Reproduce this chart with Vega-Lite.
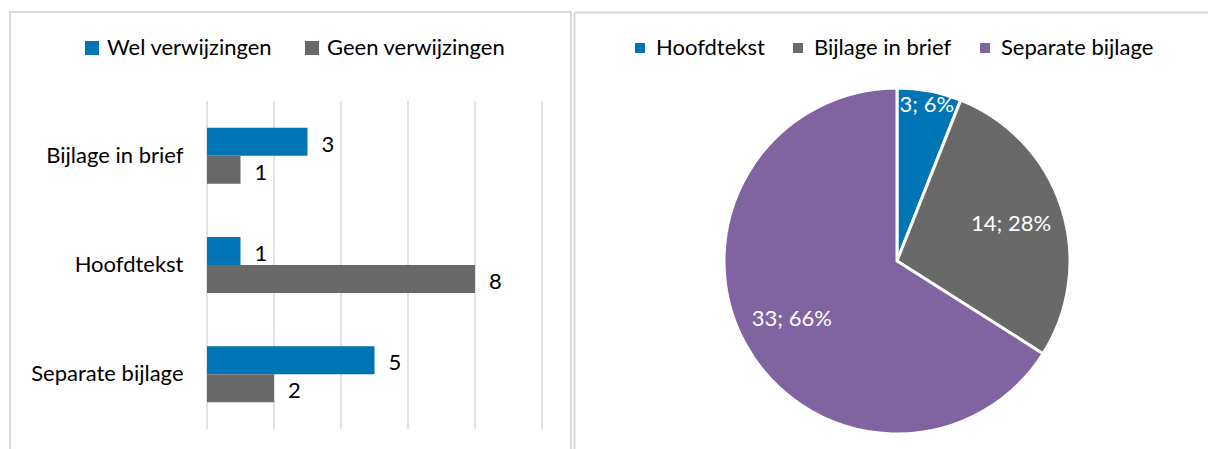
{
  "$schema": "https://vega.github.io/schema/vega-lite/v6.json",
  "padding": {"left": 9, "top": 11, "right": -10, "bottom": -60},
  "spacing": 2,
  "config": {
    "view": {"stroke": "#d9d9d9", "strokeWidth": 2},
    "font": "Lato",
    "legend": {"labelFont": "Lato", "labelFontSize": 22, "labelLimit": 400, "labelColor": "#000000", "symbolType": "square", "symbolStrokeWidth": 0, "title": null, "direction": "horizontal", "orient": "none"}
  },
  "datasets": {
    "bars": [
      {"cat": "Bijlage in brief", "series": "Wel verwijzingen", "value": 3},
      {"cat": "Bijlage in brief", "series": "Geen verwijzingen", "value": 1},
      {"cat": "Hoofdtekst", "series": "Wel verwijzingen", "value": 1},
      {"cat": "Hoofdtekst", "series": "Geen verwijzingen", "value": 8},
      {"cat": "Separate bijlage", "series": "Wel verwijzingen", "value": 5},
      {"cat": "Separate bijlage", "series": "Geen verwijzingen", "value": 2}
    ],
    "grid": [{"g": 0}, {"g": 2}, {"g": 4}, {"g": 6}, {"g": 8}, {"g": 10}],
    "pie": [
      {"k": 1, "cat": "Hoofdtekst", "value": 3, "label": "3; 6%"},
      {"k": 2, "cat": "Bijlage in brief", "value": 14, "label": "14; 28%"},
      {"k": 3, "cat": "Separate bijlage", "value": 33, "label": "33; 66%"}
    ]
  },
  "resolve": {"scale": {"color": "independent"}, "legend": {"color": "independent"}},
  "hconcat": [
    {
      "width": 561,
      "height": 498,
      "layer": [
        {
          "data": {"name": "grid"},
          "mark": {"type": "rule", "color": "#d9d9d9", "strokeWidth": 1.5},
          "encoding": {
            "x": {"field": "g", "type": "quantitative", "scale": {"domain": [0, 10], "range": [197, 532], "nice": false}, "axis": null},
            "y": {"datum": 0, "type": "quantitative", "scale": {"domain": [0, 1], "range": [89, 417]}, "axis": null},
            "y2": {"datum": 1}
          }
        },
        {
          "data": {"name": "bars"},
          "layer": [
            {
              "mark": {"type": "bar"},
              "encoding": {
                "x": {"field": "value", "type": "quantitative", "scale": {"domain": [0, 10], "range": [197, 532], "nice": false}, "axis": null},
                "y": {"field": "cat", "type": "nominal", "sort": ["Bijlage in brief", "Hoofdtekst", "Separate bijlage"], "scale": {"range": [89, 417], "paddingInner": 0, "paddingOuter": 0},
                  "axis": {"title": null, "offset": -197, "ticks": false, "domain": false, "labelPadding": 24, "labelFont": "Lato", "labelFontSize": 22, "labelColor": "#000000", "grid": false}},
                "yOffset": {"field": "series", "type": "nominal", "sort": ["Wel verwijzingen", "Geen verwijzingen"], "scale": {"paddingInner": 0, "paddingOuter": 0.95}},
                "color": {"field": "series", "type": "nominal", "sort": ["Wel verwijzingen", "Geen verwijzingen"],
                  "scale": {"domain": ["Wel verwijzingen", "Geen verwijzingen"], "range": ["#0075B6", "#696969"]},
                  "legend": {"legendX": 71, "legendY": 25, "symbolSize": 196, "labelOffset": 4, "columnPadding": 28}}
              }
            },
            {
              "mark": {"type": "text", "align": "left", "baseline": "middle", "dx": 14, "dy": 3, "fontSize": 22, "color": "#000000", "font": "Lato"},
              "encoding": {
                "x": {"field": "value", "type": "quantitative"},
                "y": {"field": "cat", "type": "nominal", "sort": ["Bijlage in brief", "Hoofdtekst", "Separate bijlage"]},
                "yOffset": {"field": "series", "type": "nominal", "sort": ["Wel verwijzingen", "Geen verwijzingen"]},
                "text": {"field": "value", "type": "quantitative"}
              }
            }
          ]
        }
      ],
      "resolve": {"scale": {"y": "independent"}, "axis": {"y": "independent"}}
    },
    {
      "width": 646,
      "height": 498,
      "view": {"stroke": null},
      "data": {"name": "pie"},
      "layer": [
        {
          "mark": {"type": "rule", "opacity": 0},
          "encoding": {
            "x": {"datum": 0, "type": "quantitative", "scale": {"domain": [0, 1]},
              "axis": {"orient": "top", "domainColor": "#d9d9d9", "domainWidth": 2, "labels": false, "ticks": false, "title": null, "grid": false}},
            "y": {"datum": 0, "type": "quantitative", "scale": {"domain": [0, 1]},
              "axis": {"orient": "left", "domainColor": "#d9d9d9", "domainWidth": 2, "labels": false, "ticks": false, "title": null, "grid": false}}
          }
        },
        {
          "mark": {"type": "arc", "outerRadius": 173, "stroke": "#ffffff", "strokeWidth": 3},
          "encoding": {
            "theta": {"field": "value", "type": "quantitative", "stack": true},
            "order": {"field": "k", "type": "quantitative"},
            "color": {"field": "cat", "type": "nominal", "sort": ["Hoofdtekst", "Bijlage in brief", "Separate bijlage"],
              "scale": {"domain": ["Hoofdtekst", "Bijlage in brief", "Separate bijlage"], "range": ["#0075B6", "#696969", "#8064A2"]},
              "legend": {"legendX": 55, "legendY": 25, "symbolSize": 100, "labelOffset": 5, "columnPadding": 22}}
          }
        },
        {
          "mark": {"type": "text", "radius": 120, "fontSize": 22, "color": "#ffffff", "font": "Lato"},
          "encoding": {
            "theta": {"field": "value", "type": "quantitative", "stack": true},
            "order": {"field": "k", "type": "quantitative"},
            "text": {"condition": {"test": "datum.k == 1", "value": ""}, "field": "label", "type": "nominal"}
          }
        },
        {
          "mark": {"type": "text", "radius": 159, "fontSize": 22, "color": "#ffffff", "font": "Lato"},
          "encoding": {
            "theta": {"field": "value", "type": "quantitative", "stack": true},
            "order": {"field": "k", "type": "quantitative"},
            "text": {"condition": {"test": "datum.k != 1", "value": ""}, "field": "label", "type": "nominal"}
          }
        }
      ]
    }
  ]
}
